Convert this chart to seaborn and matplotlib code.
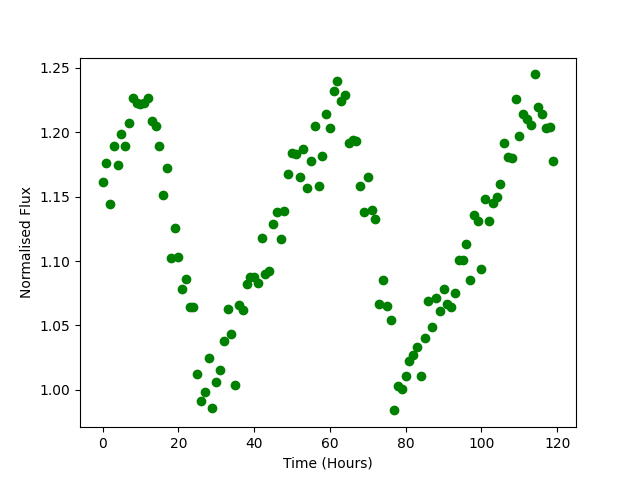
import matplotlib
matplotlib.use("Agg")
import matplotlib.pyplot as plt
import seaborn as sns
import numpy as np
import pandas as pd

time_hours = list(range(120))
flux = [
    1.1615, 1.176, 1.144, 1.189, 1.175, 1.199, 1.189, 1.207, 1.227, 1.223,
    1.222, 1.223, 1.227, 1.209, 1.205, 1.189, 1.151, 1.172, 1.102, 1.126,
    1.103, 1.078, 1.086, 1.064, 1.064, 1.012, 0.991, 0.998, 1.025, 0.986,
    1.006, 1.015, 1.038, 1.063, 1.043, 1.004, 1.066, 1.062, 1.082, 1.088,
    1.088, 1.083, 1.118, 1.090, 1.092, 1.129, 1.138, 1.117, 1.139, 1.168,
    1.184, 1.183, 1.165, 1.187, 1.157, 1.178, 1.205, 1.158, 1.182, 1.214,
    1.203, 1.232, 1.240, 1.224, 1.229, 1.192, 1.194, 1.193, 1.158, 1.138,
    1.165, 1.140, 1.133, 1.067, 1.085, 1.065, 1.054, 0.984, 1.003, 1.001,
    1.011, 1.022, 1.027, 1.033, 1.011, 1.040, 1.069, 1.049, 1.071, 1.061,
    1.078, 1.067, 1.064, 1.075, 1.101, 1.101, 1.113, 1.085, 1.136, 1.131,
    1.094, 1.148, 1.131, 1.145, 1.150, 1.160, 1.192, 1.181, 1.180, 1.226,
    1.197, 1.214, 1.210, 1.206, 1.245, 1.220, 1.214, 1.203, 1.204, 1.178,
]

df = pd.DataFrame({"Time (Hours)": time_hours, "Normalised Flux": flux})

fig, ax = plt.subplots(figsize=(6.4, 4.8), dpi=100)
sns.scatterplot(data=df, x="Time (Hours)", y="Normalised Flux", color="green",
                s=36, edgecolor="green", linewidth=1, ax=ax)
ax.set_xlabel("Time (Hours)")
ax.set_ylabel("Normalised Flux")
fig.savefig("out.png", dpi=100)
